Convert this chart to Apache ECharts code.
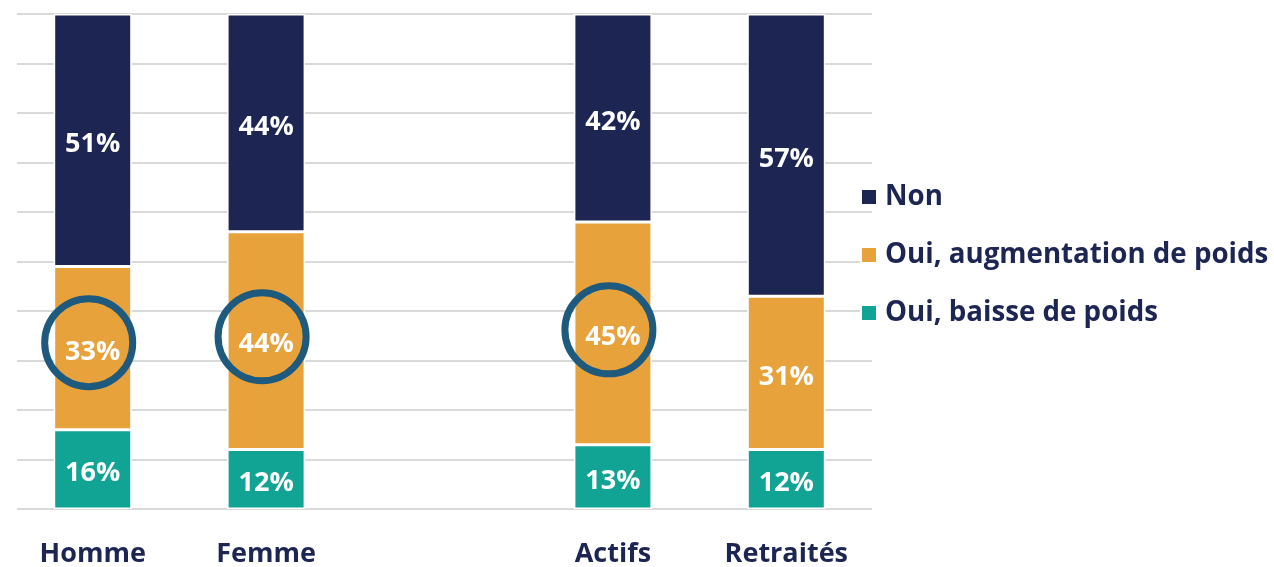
<!DOCTYPE html>
<html>
<head>
<meta charset="utf-8">
<script src="https://cdn.jsdelivr.net/npm/echarts@6/dist/echarts.min.js"></script>
<style>
  html, body { margin: 0; padding: 0; background: #fff; }
  #chart { width: 1274px; height: 567px; }
</style>
</head>
<body>
<div id="chart"></div>
<script>
// data (percent)
var categories = ['Homme', 'Femme', '', 'Actifs', 'Retraités'];
var baisse = [16, 12, null, 13, 12];
var augmentation = [33, 44, null, 45, 31];
var non = [51, 44, null, 42, 57];
var seriesNames = ['Oui, baisse de poids', 'Oui, augmentation de poids', 'Non'];
// highlighted values (circled), at the middle of the orange block
var circled = [['Homme', 33.6], ['Femme', 34.8], ['Actifs', 36.2]];

var navy = '#1d2553';
var orange = '#e8a23c';
var teal = '#11a393';
var font = 'Open Sans';

var myChart = echarts.init(document.getElementById('chart'));

var labelStyle = {
    show: true,
    position: 'inside',
    offset: [0, 4],
    color: '#fff',
    fontFamily: font,
    fontWeight: 'bold',
    fontSize: 27,
    formatter: function (p) { return p.value == null ? '' : p.value + '%'; }
};

function barSeries(name, data, color) {
    return {
        name: name,
        type: 'bar',
        stack: 'total',
        xAxisIndex: 1,
        yAxisIndex: 1,
        barWidth: 78,
        data: data,
        itemStyle: { color: color, borderColor: '#fff', borderWidth: 1.5 },
        label: labelStyle
    };
}

var option = {
    animation: false,
    legend: {
        orient: 'vertical',
        left: 860,
        top: 182,
        padding: 0,
        itemWidth: 16,
        itemHeight: 16,
        itemGap: 28,
        icon: 'rect',
        data: [seriesNames[2], seriesNames[1], seriesNames[0]],
        textStyle: { color: navy, fontFamily: font, fontWeight: 'bold', fontSize: 27.7, lineHeight: 30, padding: [0, 0, 0, 3] }
    },
    grid: [
        // grid lines only
        { left: 17, right: 402, top: 14, bottom: 58, outerBoundsMode: 'none' },
        // bars
        { left: 6, right: 401, top: 14, bottom: 58, outerBoundsMode: 'none' }
    ],
    xAxis: [
        { gridIndex: 0, type: 'category', data: categories, show: false },
        {
            gridIndex: 1,
            type: 'category',
            data: categories,
            axisLine: { show: false },
            axisTick: { show: false },
            axisLabel: { color: navy, fontFamily: font, fontWeight: 'bold', fontSize: 27, margin: 32 }
        }
    ],
    yAxis: [
        {
            gridIndex: 0,
            type: 'value',
            min: 0,
            max: 100,
            interval: 10,
            axisLabel: { show: false },
            axisLine: { show: false },
            axisTick: { show: false },
            splitLine: { lineStyle: { color: '#d9d9d9', width: 2 } }
        },
        {
            gridIndex: 1,
            type: 'value',
            min: 0,
            max: 100,
            interval: 10,
            show: false,
            splitLine: { show: false }
        }
    ],
    series: [
        barSeries(seriesNames[0], baisse, teal),
        barSeries(seriesNames[1], augmentation, orange),
        barSeries(seriesNames[2], non, navy),
        {
            type: 'scatter',
            xAxisIndex: 1,
            yAxisIndex: 1,
            data: circled,
            symbol: 'circle',
            symbolSize: 88,
            symbolOffset: [-4, 0],
            z: 5,
            itemStyle: { color: 'rgba(0,0,0,0)', borderColor: '#1d5a7e', borderWidth: 7, opacity: 1 },
            silent: true
        }
    ]
};

myChart.setOption(option);
</script>
</body>
</html>
